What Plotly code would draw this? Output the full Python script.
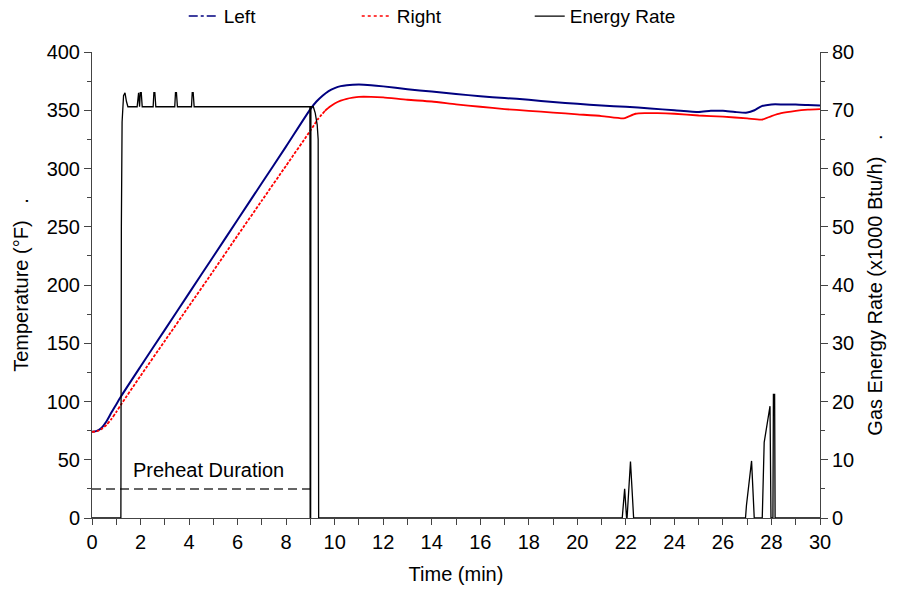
import plotly.graph_objects as go

# Surface temperatures (°F) over the test, minutes
time_left = [0, 0.2, 0.4, 0.6, 0.8, 1.0, 1.2, 2, 3, 4, 5, 6, 7, 8, 9, 9.25, 9.5, 9.75,
             10, 10.25, 10.5, 11, 11.5, 12, 13, 14, 15, 16, 17, 18, 19, 20, 21, 22, 23,
             24, 25, 25.5, 26, 26.5, 27, 27.3, 27.6, 28, 28.5, 29, 29.5, 30]
temp_left = [74, 74.8, 77.5, 83, 90.5, 97.5, 104.5, 130, 161.5, 193, 224.5, 256, 287.5,
             319, 351, 357.5, 362.5, 366.5, 369, 370.7, 371.5, 372, 371.5, 370.5, 368,
             366, 364, 362, 360.5, 359, 357, 355.5, 354, 353, 351.5, 350, 348.5, 349.5,
             349.5, 348.5, 348, 350, 353.5, 355, 355, 355, 354.5, 354]

time_right_heat = [0, 0.2, 0.4, 0.6, 0.8, 1.0, 1.2, 2, 3, 4, 5, 6, 7, 8, 9, 9.3, 9.6]
temp_right_heat = [74, 74.5, 76.5, 80, 85, 91, 97.5, 122, 152, 182, 212, 242.5, 272.5,
                   302.5, 332.5, 342, 349.5]
time_right_hold = [9.6, 9.8, 10, 10.25, 10.5, 10.75, 11, 11.5, 12, 13, 14, 15, 16, 17,
                   18, 19, 20, 21, 21.9, 22.1, 22.4, 22.8, 23.3, 24, 25, 26, 27, 27.6,
                   28, 28.4, 29, 29.5, 30]
temp_right_hold = [349.5, 353, 355.8, 358.2, 359.8, 360.8, 361.5, 361.5, 361, 359, 357.5,
                   355, 353, 351, 349.5, 348, 346.5, 345, 343, 344.5, 347, 347.5, 347.5,
                   347, 345.5, 344.5, 343, 342, 345, 347.5, 349.5, 350.5, 351]

# Gas energy rate (x1000 Btu/h)
time_energy = [0, 1.19, 1.21, 1.24, 1.30, 1.36, 1.42, 1.48,
               1.86, 1.89, 1.92, 1.96, 1.99, 2.03, 2.07, 2.11,
               2.52, 2.55, 2.59, 2.63,
               3.41, 3.44, 3.48, 3.52,
               4.10, 4.13, 4.17, 4.21,
               8.98, 8.99, 9.01, 9.02, 9.12, 9.20, 9.28, 9.32, 9.34,
               21.85, 21.95, 22.03, 22.05, 22.19, 22.32,
               26.93, 26.97, 27.18, 27.29, 27.62, 27.70, 27.94, 27.98,
               28.06, 28.08, 28.13, 28.15, 30]
energy_rate = [0, 0, 50, 68, 72.5, 73, 71.5, 70.6,
               70.6, 73, 73, 70.6, 73, 73, 70.6, 70.6,
               70.6, 73, 73, 70.6,
               70.6, 73, 73, 70.6,
               70.6, 73, 73, 70.6,
               70.6, 0, 0, 70.6, 70.6, 69.5, 67.5, 65, 0,
               0, 5, 0, 0, 9.7, 0,
               0, 2.2, 9.8, 0, 0, 13, 19.2, 0,
               0, 21.2, 21.2, 0, 0]

# Preheat marker
preheat_time = [0, 9.0]
preheat_level = 25
preheat_label = "Preheat Duration"

x_ticks = list(range(0, 31, 2))
font = "Liberation Sans, Arial, sans-serif"
fs = 20
axis_col = "#444444"

fig = go.Figure()

fig.add_trace(go.Scatter(x=time_energy, y=energy_rate, mode="lines", yaxis="y2",
                         line=dict(color="black", width=1.3), showlegend=False))
fig.add_trace(go.Scatter(x=time_left, y=temp_left, mode="lines",
                         line=dict(color="#000080", width=2, shape="spline",
                                   smoothing=0.6), showlegend=False))
fig.add_trace(go.Scatter(x=time_right_heat, y=temp_right_heat, mode="lines",
                         line=dict(color="#FF0000", width=1.8, dash="3px,1.5px",
                                   shape="spline", smoothing=0.6),
                         showlegend=False))
fig.add_trace(go.Scatter(x=time_right_hold, y=temp_right_hold, mode="lines",
                         line=dict(color="#FF0000", width=1.8, shape="spline",
                                   smoothing=0.6), showlegend=False))
fig.add_trace(go.Scatter(x=preheat_time, y=[preheat_level] * len(preheat_time),
                         mode="lines", line=dict(color="#333333", width=1.5,
                                                 dash="9px,5px"),
                         showlegend=False))

# Legend entries
fig.add_trace(go.Scatter(x=[None], y=[None], mode="lines", name="Left",
                         line=dict(color="#000080", width=1.5, dash="dashdot")))
fig.add_trace(go.Scatter(x=[None], y=[None], mode="lines", name="Right",
                         line=dict(color="#FF0000", width=1.5, dash="dot")))
fig.add_trace(go.Scatter(x=[None], y=[None], mode="lines", name="Energy Rate",
                         line=dict(color="black", width=1.3)))

fig.add_annotation(x=4.8, y=preheat_level, yshift=19, text=preheat_label,
                   showarrow=False, font=dict(family=font, size=fs, color="black"))

fig.update_layout(
    width=899, height=590,
    margin=dict(l=92, r=79, t=52, b=72, autoexpand=False),
    paper_bgcolor="white", plot_bgcolor="white",
    font=dict(family=font, size=fs, color="black"),
    legend=dict(orientation="h", x=0.126, xanchor="left", y=1.036, yanchor="bottom",
                entrywidth=128, entrywidthmode="pixels",
                font=dict(family=font, size=19), bgcolor="rgba(0,0,0,0)"),
    xaxis=dict(range=[0, 30], tickvals=x_ticks, ticks="outside", ticklen=6,
               tickcolor=axis_col, showline=True, linecolor=axis_col, linewidth=1,
               showgrid=False, zeroline=False,
               minor=dict(dtick=1, ticks="outside", ticklen=6, tickcolor=axis_col),
               title=dict(text="Time (min)", standoff=14, font=dict(size=fs)),
               tickfont=dict(size=fs)),
    yaxis=dict(range=[0, 400], dtick=50, ticks="outside", ticklen=7,
               tickcolor=axis_col, showline=True, linecolor=axis_col, linewidth=1,
               showgrid=False, zeroline=False,
               minor=dict(dtick=25, ticks="outside", ticklen=4, tickcolor=axis_col),
               title=dict(text="Temperature (°F)\u00a0\u00a0\u00a0.", standoff=12,
                          font=dict(size=fs)),
               tickfont=dict(size=fs)),
    yaxis2=dict(range=[0, 80], dtick=10, overlaying="y", side="right",
                ticks="outside", ticklen=7, tickcolor=axis_col, showline=True,
                linecolor=axis_col, linewidth=1, showgrid=False, zeroline=False,
                minor=dict(dtick=5, ticks="outside", ticklen=4, tickcolor=axis_col),
                title=dict(text="Gas Energy Rate (x1000 Btu/h)\u00a0\u00a0\u00a0.",
                           standoff=14, font=dict(size=fs)),
                tickfont=dict(size=fs)),
)

fig.write_html("out.html")
